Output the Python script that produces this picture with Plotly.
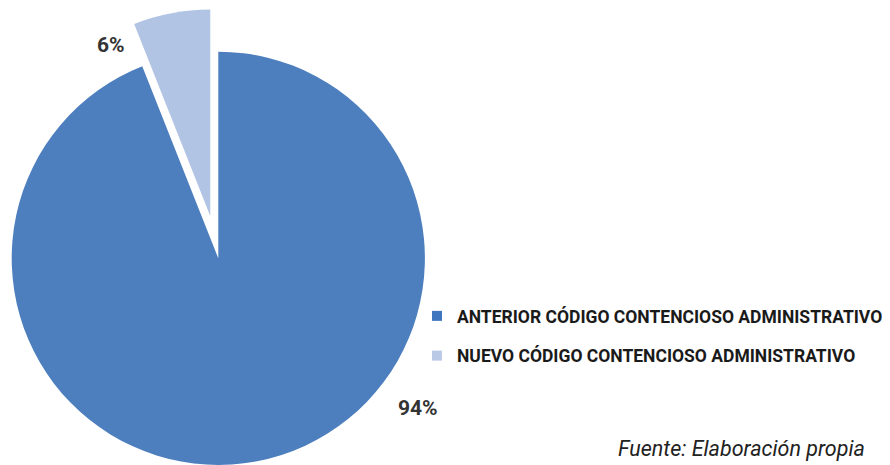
import math
import plotly.graph_objects as go

# Data
categories = [
    "ANTERIOR CÓDIGO CONTENCIOSO ADMINISTRATIVO",
    "NUEVO CÓDIGO CONTENCIOSO ADMINISTRATIVO",
]
shares = [94, 6]
slice_colors = ["#4D7FBF", "#B1C4E4"]
legend_colors = ["#3F74BF", "#B9C9E6"]
source_note = "Fuente: Elaboración propia"

# Canvas geometry (pixels)
W, H = 890, 465
CX, CY, R = 218.3, 258.3, 206.6   # pie centre and radius
PULL = 0.208                       # detachment of the minor slice (fraction of R)
CLEAR = "rgba(0,0,0,0)"

FONT = "Roboto, sans-serif"


def pie_domain(cx, cy, r):
    clamp = lambda v: min(1.0, max(0.0, v))
    return dict(
        x=[clamp((cx - r) / W), clamp((cx + r) / W)],
        y=[clamp(1 - (cy + r) / H), clamp(1 - (cy - r) / H)],
    )


total = sum(shares)
# mid-angle of the minor slice, clockwise from 12 o'clock
mid = 2 * math.pi * (sum(shares[:1]) + shares[1] / 2) / total
dx = PULL * R * math.sin(mid)
dy = -PULL * R * math.cos(mid)

fig = go.Figure()

# main pie: the major slice, the minor one left empty
fig.add_trace(go.Pie(
    labels=categories, values=shares, sort=False,
    direction="clockwise", rotation=0,
    marker=dict(colors=[slice_colors[0], CLEAR], line=dict(width=0)),
    textinfo="none", hoverinfo="label+percent",
    domain=pie_domain(CX, CY, R), showlegend=False,
))

# the minor slice, pulled out along its bisector
fig.add_trace(go.Pie(
    labels=categories, values=shares, sort=False,
    direction="clockwise", rotation=0,
    marker=dict(colors=[CLEAR, slice_colors[1]], line=dict(width=0)),
    textinfo="none", hoverinfo="label+percent",
    domain=pie_domain(CX + dx, CY + dy, R), showlegend=False,
))

# legend entries
for i, (name, col) in enumerate(zip(categories, legend_colors)):
    fig.add_trace(go.Scatter(
        x=[None], y=[None], mode="markers", name=name,
        legendgroup=f"g{i}",
        marker=dict(symbol="square", size=10, color=col),
    ))

# percentage labels
label_pos = [(418, 408), (111, 45)]
for v, (px, py) in zip(shares, label_pos):
    fig.add_annotation(
        x=px / W, y=1 - py / H, xref="paper", yref="paper",
        text=f"{v}%", showarrow=False, xanchor="center", yanchor="middle",
        font=dict(family=FONT, size=21, color="#333333", weight="bold"),
    )

# source note
fig.add_annotation(
    x=867 / W, y=1 - 448 / H, xref="paper", yref="paper",
    text=source_note, showarrow=False, xanchor="right", yanchor="middle",
    font=dict(family=FONT, size=21.5, color="#222222", style="italic"),
)

fig.update_layout(
    width=W, height=H,
    margin=dict(l=0, r=0, t=0, b=0),
    paper_bgcolor="white", plot_bgcolor="white",
    xaxis=dict(visible=False), yaxis=dict(visible=False),
    legend=dict(
        x=417 / W, y=1 - 298 / H, xanchor="left", yanchor="top",
        font=dict(family=FONT, size=17.5, color="#1A1A1A", weight="bold"),
        traceorder="grouped", tracegroupgap=14,
        bgcolor="rgba(0,0,0,0)",
    ),
)

fig.write_html("out.html")
